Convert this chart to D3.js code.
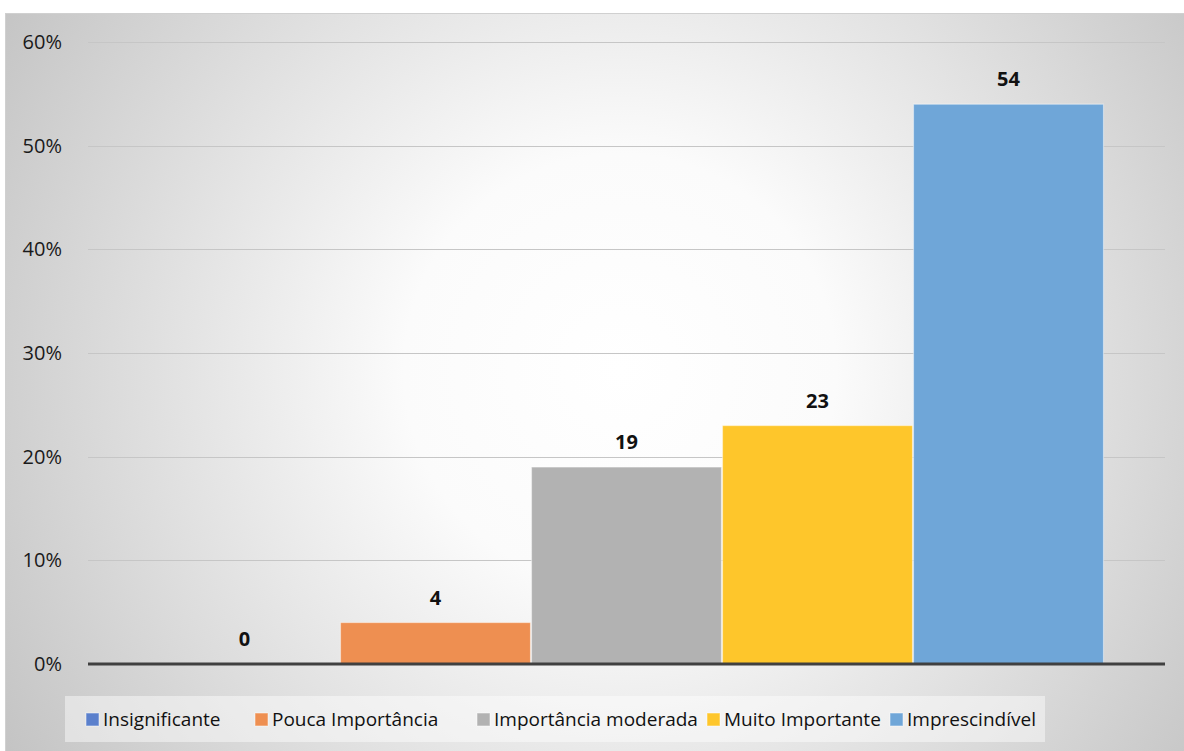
<!DOCTYPE html>
<html>
<head>
<meta charset="utf-8">
<script src="https://cdn.jsdelivr.net/npm/d3@7"></script>
<style>
  body { margin: 0; background: #fff; }
  svg { display: block; font-family: "Open Sans", sans-serif; }
</style>
</head>
<body>
<svg id="chart" width="1184" height="751"></svg>
<script>
'use strict';
const SERIES = ['Insignificante', 'Pouca Importância', 'Importância moderada', 'Muito Importante', 'Imprescindível'];
const VALUES = [0, 4, 19, 23, 54];
const COLORS = ['#5b80cc', '#ee8f51', '#b2b2b2', '#fec62b', '#6fa6d8'];
const Y_TICKS = [0, 10, 20, 30, 40, 50, 60];

const W = 1184, H = 751;
const PLOT_LEFT = 88, PLOT_RIGHT = 1165, PLOT_TOP = 42, PLOT_BOTTOM = 664;
const FONT = '"Open Sans", sans-serif';

let svg = d3.select('#chart');

// background with soft radial glow
let defs = svg.append('defs');
let grad = defs.append('radialGradient')
  .attr('id', 'bg')
  .attr('gradientUnits', 'userSpaceOnUse')
  .attr('cx', 620).attr('cy', 370).attr('r', 720);
grad.append('stop').attr('offset', '0%').attr('stop-color', '#ffffff');
grad.append('stop').attr('offset', '30%').attr('stop-color', '#fbfbfb');
grad.append('stop').attr('offset', '100%').attr('stop-color', '#c4c4c4');

svg.append('rect')
  .attr('x', 5.5).attr('y', 13.5)
  .attr('width', W).attr('height', H)
  .attr('fill', 'url(#bg)')
  .attr('stroke', '#d0d0d0');

let yScale = d3.scaleLinear().domain([0, 60]).range([PLOT_BOTTOM, PLOT_TOP]);
let xScale = d3.scaleBand().domain(SERIES)
  .range([PLOT_LEFT + 61, PLOT_RIGHT - 61]).padding(0);

// gridlines
svg.append('g').selectAll('line')
  .data(Y_TICKS.filter(t => t > 0))
  .enter().append('line')
  .attr('x1', PLOT_LEFT).attr('x2', PLOT_RIGHT)
  .attr('y1', d => Math.round(yScale(d)) + 0.5)
  .attr('y2', d => Math.round(yScale(d)) + 0.5)
  .attr('stroke', '#c6c6c6');

// y axis labels
let yAxis = svg.append('g')
  .attr('transform', 'translate(' + (PLOT_LEFT - 26) + ',0)')
  .call(d3.axisLeft(yScale).tickValues(Y_TICKS).tickFormat(d => d + '%').tickSize(0).tickPadding(0));
yAxis.select('.domain').remove();
yAxis.selectAll('text')
  .attr('font-size', 20)
  .attr('fill', '#1a1a1a')
  .attr('font-family', FONT);

// bars
svg.append('g').selectAll('rect')
  .data(VALUES)
  .enter().append('rect')
  .attr('x', (d, i) => xScale(SERIES[i]) + 0.5)
  .attr('width', xScale.bandwidth() - 1)
  .attr('y', d => yScale(d))
  .attr('height', d => PLOT_BOTTOM - yScale(d))
  .attr('fill', (d, i) => COLORS[i])
  .attr('stroke', 'rgba(255,255,255,0.45)')
  .attr('stroke-width', 1.2);

// value labels
svg.append('g').selectAll('text')
  .data(VALUES)
  .enter().append('text')
  .attr('x', (d, i) => xScale(SERIES[i]) + xScale.bandwidth() / 2)
  .attr('y', d => yScale(d) - 18)
  .attr('text-anchor', 'middle')
  .attr('font-size', 20)
  .attr('font-weight', 'bold')
  .attr('fill', '#111')
  .text(d => d);

// zero axis line
svg.append('line')
  .attr('x1', PLOT_LEFT).attr('x2', PLOT_RIGHT)
  .attr('y1', PLOT_BOTTOM).attr('y2', PLOT_BOTTOM)
  .attr('stroke', '#404040').attr('stroke-width', 3);

// legend
let legendX = [86, 255, 477, 707, 890];
svg.append('rect')
  .attr('x', 65).attr('y', 696)
  .attr('width', 980).attr('height', 46)
  .attr('fill', 'rgba(255,255,255,0.45)');
let item = svg.append('g').selectAll('g')
  .data(SERIES)
  .enter().append('g')
  .attr('transform', (d, i) => 'translate(' + legendX[i] + ',719)');
item.append('rect')
  .attr('x', 0).attr('y', -6)
  .attr('width', 13).attr('height', 13)
  .attr('fill', (d, i) => COLORS[i])
  .attr('stroke', 'rgba(255,255,255,0.5)');
item.append('text')
  .attr('x', 17).attr('y', 0)
  .attr('dy', '0.35em')
  .attr('font-size', 19)
  .attr('fill', '#111')
  .text(d => d);
</script>
</body>
</html>
